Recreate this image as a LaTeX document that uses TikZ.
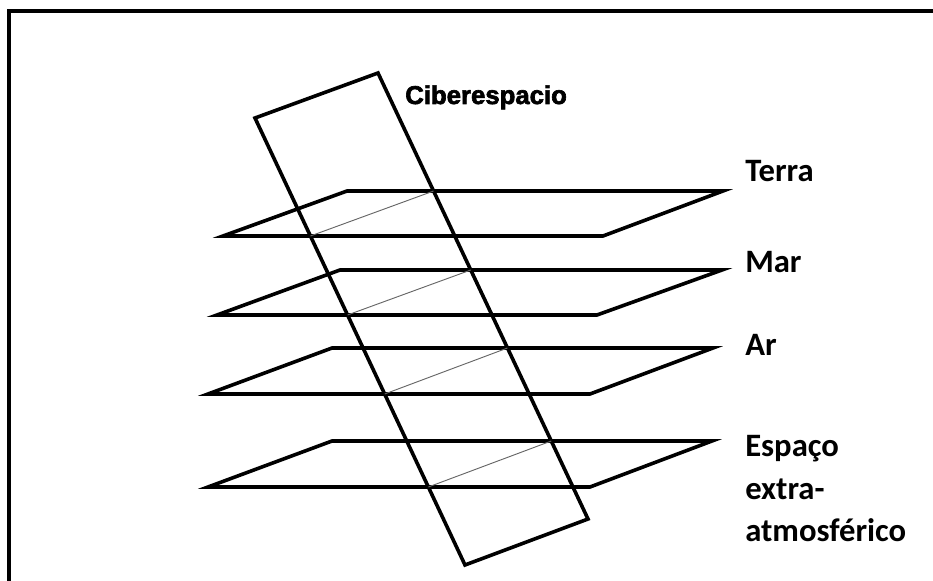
\documentclass[tikz,border=0pt]{standalone}
\usepackage{fontspec}
\setmainfont{Carlito}
\newfontfamily\headfont[BoldFeatures={FakeBold=2.5}]{Liberation Sans}
\usetikzlibrary{calc}

\begin{document}
\begin{tikzpicture}[x=0.75pt, y=-0.75pt,
    thickline/.style={line width=2.7pt, line join=miter},
    cutline/.style={line width=0.7pt, black!60},
    layerlabel/.style={anchor=base west, inner sep=0,
      font=\fontsize{24.5}{32}\selectfont\bfseries}]
    \useasboundingbox (0,0) rectangle (933,581);

    % --- outer frame, only its top and left edges show ---
    \draw[line width=3pt] (9,581) -- (9,11) -- (933,11);

    % --- the tilted cyberspace sheet ---
    \coordinate (cyb-tl) at (255,118);
    \coordinate (cyb-tr) at (378,73);
    \coordinate (cyb-br) at (588,519);
    \coordinate (cyb-bl) at (465,565);
    \draw[thickline] (cyb-tl) -- (cyb-tr) -- (cyb-br) -- (cyb-bl) -- cycle;
    \node[anchor=base west, inner sep=0,
          font=\headfont\bfseries\fontsize{19.3}{23}\selectfont]
      (ciber) at (405,104) {Ciberespacio};

    % --- four horizontal layers: front y / back y / front-left x / back-left x ---
    \foreach \i/\fy/\by/\fl/\bl/\fr/\br in {%
        1/236/191/223/347/603/723,
        2/315/270/217/340/597/722,
        3/394/348/208/332/590/713,
        4/487/441/208/332/590/712} {
      \draw[thickline] (\fl,\fy) -- (\fr,\fy) -- (\br,\by) -- (\bl,\by) -- cycle;
      % thin cut where the layer crosses the sheet
      \coordinate (cut-a\i) at ($(cyb-tl)!{(\fy-118)/447}!(cyb-bl)$);
      \coordinate (cut-b\i) at ($(cyb-tr)!{(\by-73)/446}!(cyb-br)$);
      \draw[cutline] (cut-a\i) -- (cut-b\i);
    }

    % --- layer names on the right ---
    \node[layerlabel] (terra) at (745,182) {Terra};
    \node[layerlabel] (mar)   at (745,273) {Mar};
    \node[layerlabel] (ar)    at (745,355) {Ar};
    \node[layerlabel, anchor=north west, align=left] (espaco) at (745,435)
      {Espaço\\extra-\\atmosférico};
\end{tikzpicture}
\end{document}
